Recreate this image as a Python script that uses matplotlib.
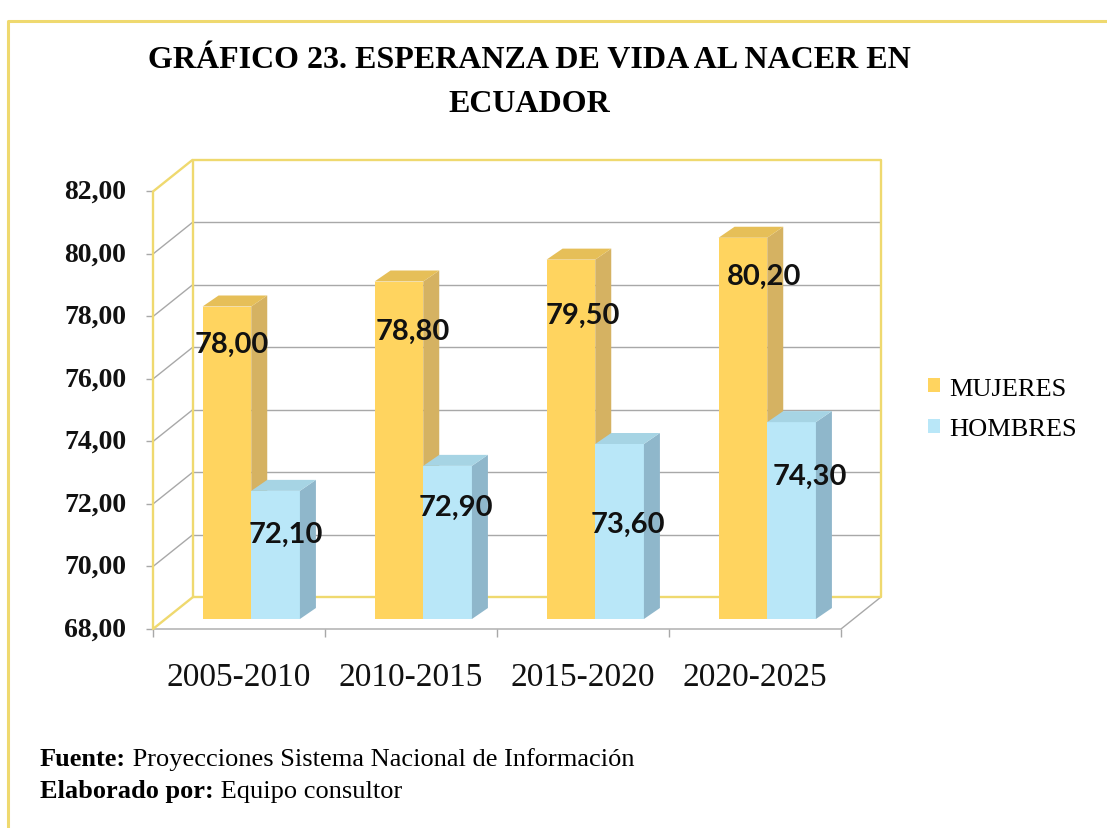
import matplotlib
matplotlib.use('Agg')
import matplotlib.pyplot as plt
from matplotlib.patches import Polygon
from matplotlib.lines import Line2D
from matplotlib.font_manager import FontProperties
import numpy as np

# ---------------- data ----------------
categories = ['2005-2010', '2010-2015', '2015-2020', '2020-2025']
series_names = ['MUJERES', 'HOMBRES']
mujeres = [78.00, 78.80, 79.50, 80.20]
hombres = [72.10, 72.90, 73.60, 74.30]
y_ticks = [68, 70, 72, 74, 76, 78, 80, 82]
y_ticklabels = ['68,00', '70,00', '72,00', '74,00', '76,00', '78,00', '80,00', '82,00']
title_lines = ['GRÁFICO 23. ESPERANZA DE VIDA AL NACER EN', 'ECUADOR']
footer = [('Fuente:', ' Proyecciones Sistema Nacional de Información'),
          ('Elaborado por:', ' Equipo consultor')]

# ---------------- style ----------------
M_FRONT, M_SIDE, M_TOP = '#FFD45F', '#D5B262', '#E6BF58'
H_FRONT, H_SIDE, H_TOP = '#B9E7F8', '#8FB7CB', '#A6D4E4'
YEL = '#EFD96F'
GRID = '#A8A8A8'
SERIF = 'Liberation Serif'

# label nudges (x in category units, y in value units)
m_lab_dx = [0.027, 0.080, 0.070, 0.122]
m_lab_dy = [-1.21, -1.59, -1.76, -1.23]
h_lab_dx = [0.061, 0.050, 0.047, 0.105]
h_lab_dy = [-1.38, -1.32, -2.56, -1.72]

W, H = 1107, 829
fig = plt.figure(figsize=(W / 100, H / 100), dpi=100)
fig.patch.set_facecolor('white')

# bar plane geometry (pixels)
plane_left, plane_w = 165.5, 688
base_y, unit_px = 620, 31.25
ymin, ymax = y_ticks[0], y_ticks[-1]
n = len(categories)
ax = fig.add_axes([plane_left / W, (H - base_y) / H, plane_w / W, (ymax - ymin) * unit_px / H])
ax.set_xlim(0, n)
ax.set_ylim(ymin, ymax)
ax.axis('off')

sx = plane_w / n
sy = unit_px


def off(dx_px, dy_px):
    return dx_px / sx, dy_px / sy


fdx, fdy = off(-12.5, -10)   # front plane
bdx, bdy = off(27.5, 22)     # back plane
ddx, ddy = off(16, 11)       # bar depth


def line(xs, ys, color, lw, z=1):
    ax.add_line(Line2D(xs, ys, color=color, lw=lw, clip_on=False, zorder=z,
                       solid_capstyle='butt'))


# gridlines on back wall and side wall
for v in y_ticks[1:-1]:
    line([bdx, n + bdx], [v + bdy, v + bdy], GRID, 1.0)
    line([fdx, bdx], [v + fdy, v + bdy], GRID, 1.0)
# back wall frame
line([bdx, bdx, n + bdx, n + bdx, bdx],
     [ymin + bdy, ymax + bdy, ymax + bdy, ymin + bdy, ymin + bdy], YEL, 1.7, 1.5)
# side wall frame
line([bdx, fdx, fdx, bdx], [ymax + bdy, ymax + fdy, ymin + fdy, ymin + bdy], YEL, 1.7, 1.5)
# floor front edge
line([fdx, n + fdx, n + bdx], [ymin + fdy, ymin + fdy, ymin + bdy], GRID, 1.0)
# ticks
for i in range(n + 1):
    line([i + fdx, i + fdx], [ymin + fdy, ymin + fdy - 8 / sy], GRID, 1.0)
for v in y_ticks:
    line([fdx - 7 / sx, fdx], [v + fdy, v + fdy], GRID, 1.0)

# bars
w = 0.283
xm = np.arange(n) + 0.357
xh = np.arange(n) + 0.640
bm = ax.bar(xm, np.array(mujeres) - ymin, bottom=ymin, width=w, color=M_FRONT,
            zorder=3, label=series_names[0], clip_on=False)
bh = ax.bar(xh, np.array(hombres) - ymin, bottom=ymin, width=w, color=H_FRONT,
            zorder=4, label=series_names[1], clip_on=False)


def faces(xc, v, side_c, top_c, z):
    xl, xr = xc - w / 2, xc + w / 2
    side = Polygon([(xr, ymin), (xr, v), (xr + ddx, v + ddy), (xr + ddx, ymin + ddy)],
                   closed=True, facecolor=side_c, edgecolor='none', zorder=z, clip_on=False)
    top = Polygon([(xl, v), (xr, v), (xr + ddx, v + ddy), (xl + ddx, v + ddy)],
                  closed=True, facecolor=top_c, edgecolor='none', zorder=z, clip_on=False)
    ax.add_patch(side)
    ax.add_patch(top)


for i in range(n):
    faces(xm[i], mujeres[i], M_SIDE, M_TOP, 3.1)
    faces(xh[i], hombres[i], H_SIDE, H_TOP, 4.1)


def fmt(v):
    return f'{v:.2f}'.replace('.', ',')


lab_kw = dict(ha='center', va='center', fontsize=21, fontweight='bold', family='Lato',
              color='#111111', zorder=6, clip_on=False)
for i in range(n):
    ax.text(xm[i] + m_lab_dx[i], mujeres[i] + m_lab_dy[i], fmt(mujeres[i]), **lab_kw)
    ax.text(xh[i] + h_lab_dx[i], hombres[i] + h_lab_dy[i], fmt(hombres[i]), **lab_kw)

# category labels on front plane
for i, c in enumerate(categories):
    ax.text(i + 0.5 + fdx, ymin + fdy - 48 / sy, c, ha='center', va='center',
            fontsize=24, family=SERIF, color='#111111', clip_on=False)

# y tick labels on front plane
for v, t in zip(y_ticks, y_ticklabels):
    ax.text(fdx - 27 / sx, v + fdy, t, ha='right', va='center', fontsize=20,
            fontweight='bold', family=SERIF, color='#111111', clip_on=False)

# legend
ax.legend(handles=[bm, bh], labels=series_names, loc='center left',
          bbox_to_anchor=(928 / W, 1 - 410 / H), bbox_transform=fig.transFigure,
          frameon=False, prop=FontProperties(family=SERIF, size=19),
          handlelength=0.45, handleheight=0.45, handletextpad=0.35,
          labelspacing=0.7, borderpad=0, borderaxespad=0)

# title
fig.text(529.5 / W, 1 - 60 / H, title_lines[0], ha='center', va='center', fontsize=23,
         fontweight='bold', family=SERIF)
fig.text(529.5 / W, 1 - 105 / H, title_lines[1], ha='center', va='center', fontsize=23,
         fontweight='bold', family=SERIF)

# footer
for (bold, rest), yy in zip(footer, [760, 792]):
    t1 = fig.text(40 / W, 1 - yy / H, bold, ha='left', va='center', fontsize=19,
                  fontweight='bold', family=SERIF)
    ax.annotate(rest, xy=(1, 0), xycoords=t1, ha='left', va='bottom', fontsize=19,
                family=SERIF, annotation_clip=False)

# outer frame
fig.add_artist(Line2D([8 / W, 8 / W, 1], [0, 1 - 22 / H, 1 - 22 / H],
                      transform=fig.transFigure, color=YEL, lw=2.2))

fig.savefig('out.png', dpi=100, facecolor='white')
